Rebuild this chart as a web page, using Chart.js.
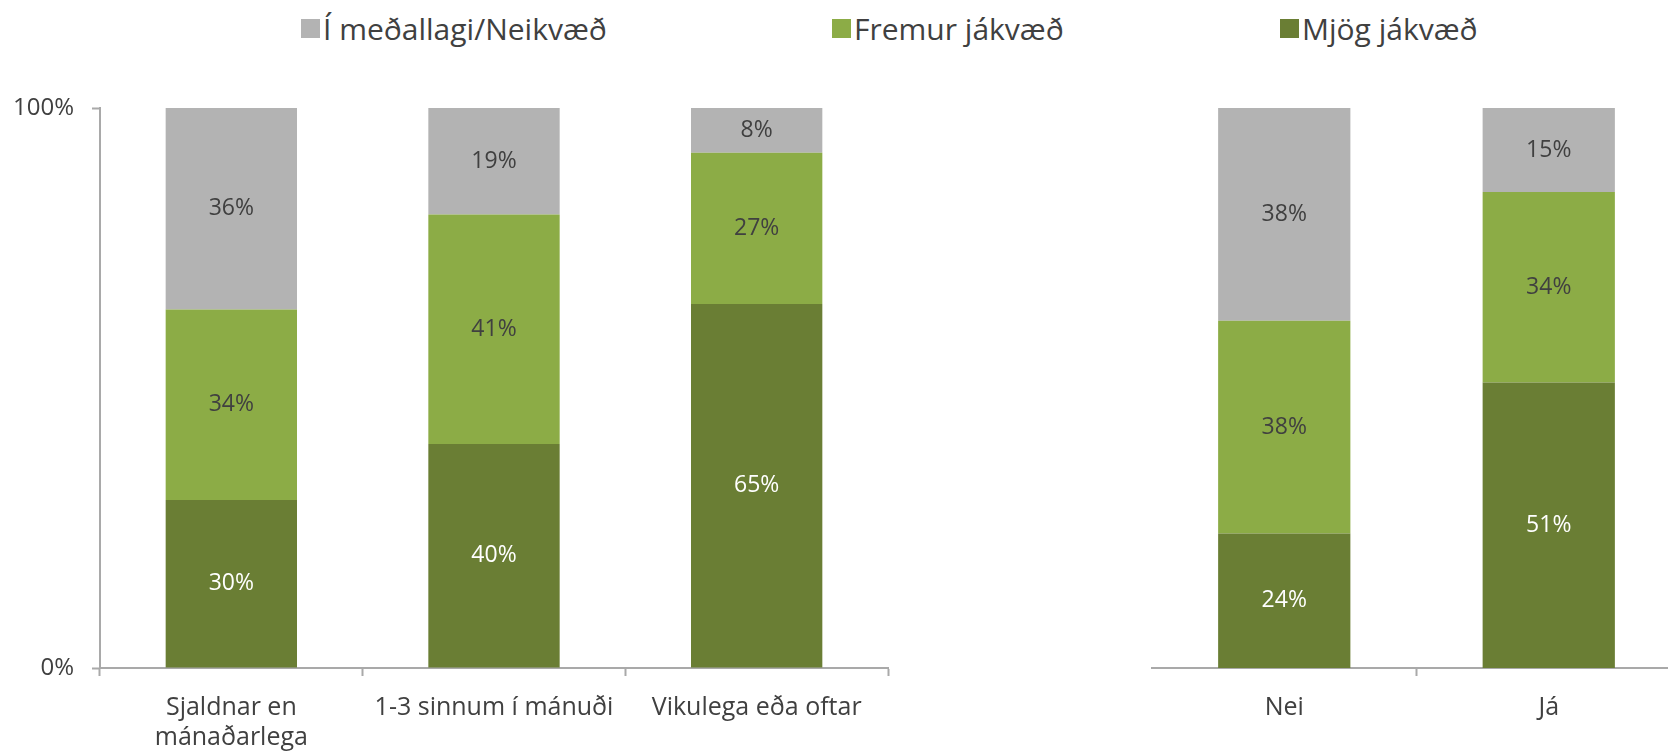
<!DOCTYPE html>
<html>
<head>
<meta charset="utf-8">
<script src="https://cdn.jsdelivr.net/npm/chart.js@4/dist/chart.umd.min.js"></script>
<style>
	html, body { margin: 0; padding: 0; background: #fff; overflow: hidden; width: 1668px; height: 753px; position: relative; }
	.item { position: absolute; top: 8px; display: flex; align-items: center; font-family: "Open Sans", sans-serif; font-size: 30px; color: #404040; white-space: nowrap; }
	.item .box { width: 19px; height: 19px; margin-right: 3px; }
	#leftChart { position: absolute; left: 0; top: 0; }
	#rightChart { position: absolute; left: 1140px; top: 0; }
</style>
</head>
<body>
<div id="legend"></div>
<canvas id="leftChart" width="900" height="753"></canvas>
<canvas id="rightChart" width="545" height="753"></canvas>
<script>
// flokkar
var leftLabels = [['Sjaldnar en', 'mánaðarlega'], '1-3 sinnum í mánuði', 'Vikulega eða oftar'];
var rightLabels = ['Nei', 'Já'];

// gildi (%)
var leftMjog = [30, 40, 65];
var leftFremur = [34, 41, 27];
var leftMedal = [36, 19, 8];

var rightMjog = [24, 51];
var rightFremur = [38, 34];
var rightMedal = [38, 15];

var seriesNames = ['Í meðallagi/Neikvæð', 'Fremur jákvæð', 'Mjög jákvæð'];
var seriesColors = ['#b3b3b3', '#8cac46', '#6a7e34'];
var labelColors = ['#404040', '#404040', '#ffffff'];

var yTicks = [0, 100];

var axisColor = '#a9a9a9';
var font = '"Open Sans", sans-serif';

// legend
var legendLeft = [301, 832, 1280];
var legendHtml = '';
seriesNames.forEach(function (n, i) {
	legendHtml += '<div class="item" style="left:' + legendLeft[i] + 'px"><div class="box" style="background:' + seriesColors[i] + '"></div>' + n + '</div>';
});
document.getElementById('legend').innerHTML = legendHtml;

// gildi inni í súlum
var valueLabels = {
	id: 'valueLabels',
	afterDatasetsDraw: function (chart) {
		var ctx = chart.ctx;
		ctx.save();
		ctx.font = '23px ' + font;
		ctx.textAlign = 'center';
		ctx.textBaseline = 'middle';
		chart.data.datasets.forEach(function (ds, di) {
			var meta = chart.getDatasetMeta(di);
			meta.data.forEach(function (bar, i) {
				var p = bar.getProps(['x', 'y', 'base'], true);
				ctx.fillStyle = ds.labelColor;
				ctx.fillText(ds.data[i] + '%', p.x, (p.y + p.base) / 2);
			});
		});
		ctx.restore();
	}
};

function makeDatasets(mjog, fremur, medal) {
	var arr = [mjog, fremur, medal];
	var order = [2, 1, 0];
	return arr.map(function (d, k) {
		var s = order[k];
		return {
			label: seriesNames[s],
			data: d,
			backgroundColor: seriesColors[s],
			labelColor: labelColors[s],
			borderWidth: 0,
			barPercentage: 0.5,
			categoryPercentage: 1.0
		};
	});
}

function makeChart(id, labels, datasets, showY, hideTicks, padLeft, padRight) {
	var context = document.getElementById(id).getContext('2d');
	return new Chart(context, {
		type: 'bar',
		data: { labels: labels, datasets: datasets },
		plugins: [valueLabels],
		options: {
			responsive: false,
			animation: false,
			devicePixelRatio: 1,
			layout: { padding: { top: 108, left: padLeft, right: padRight, bottom: 0 } },
			plugins: { legend: { display: false }, tooltip: { enabled: false } },
			scales: {
				x: {
					stacked: true,
					border: { display: true, color: axisColor, width: 2 },
					grid: {
						drawOnChartArea: false,
						tickLength: 8,
						tickWidth: 2,
						tickColor: function (c) { return hideTicks.indexOf(c.index) >= 0 ? 'rgba(0,0,0,0)' : axisColor; }
					},
					ticks: { color: '#404040', font: { family: font, size: 25 }, padding: 17, maxRotation: 0, autoSkip: false },
					afterFit: function (s) { s.height = 85; }
				},
				y: {
					display: showY,
					stacked: true,
					min: 0,
					max: 100,
					border: { display: true, color: axisColor, width: 2 },
					grid: { drawOnChartArea: false, tickLength: 8, tickWidth: 2, color: axisColor },
					afterBuildTicks: function (s) { s.ticks = yTicks.map(function (v) { return { value: v }; }); },
					ticks: {
						color: '#404040',
						font: { family: font, size: 24 },
						padding: 18,
						callback: function (v) { return v + '%'; }
					},
					afterFit: function (s) { if (showY) { s.width = 100; } }
				}
			}
		}
	});
}

makeChart('leftChart', leftLabels, makeDatasets(leftMjog, leftFremur, leftMedal), true, [3], 0, 12);
makeChart('rightChart', rightLabels, makeDatasets(rightMjog, rightFremur, rightMedal), false, [0, 2], 12, 4);
</script>
</body>
</html>
